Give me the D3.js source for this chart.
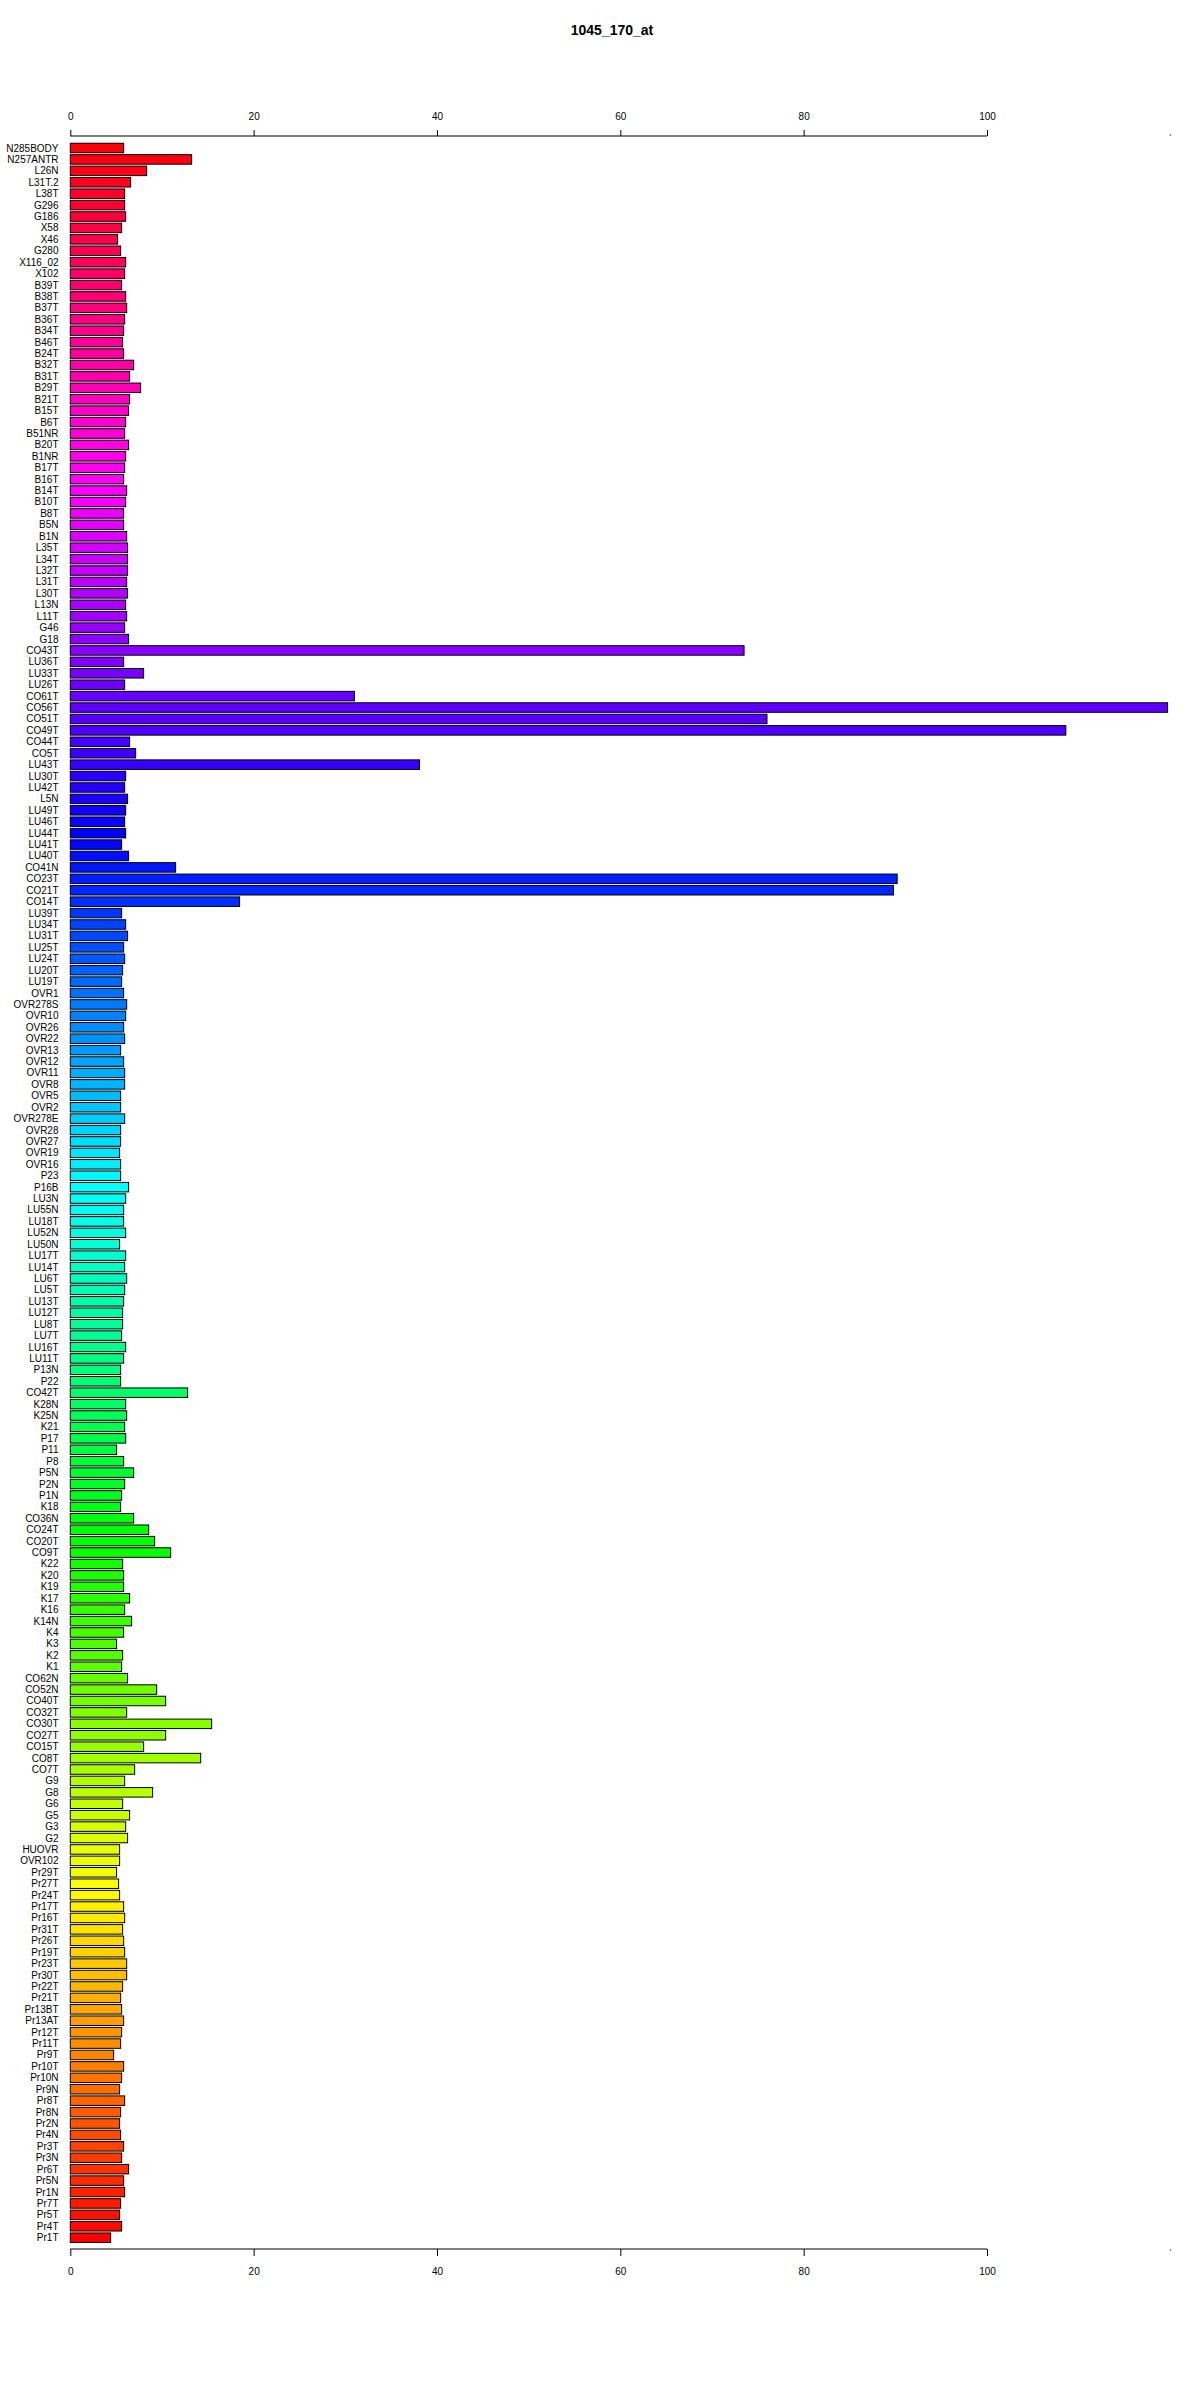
<!DOCTYPE html>
<html><head><meta charset="utf-8">
<script src="https://cdn.jsdelivr.net/npm/d3@7"></script>
<style>
html,body{margin:0;padding:0;background:#fff;}
svg text{font-family:"Liberation Sans",Arial,sans-serif;}
</style>
</head><body>
<svg id="chart" width="1200" height="2400"></svg>
<script>
const title = "1045_170_at";
const categories = ["N285BODY","N257ANTR","L26N","L31T.2","L38T","G296","G186","X58","X46","G280","X116_02","X102","B39T","B38T",
"B37T","B36T","B34T","B46T","B24T","B32T","B31T","B29T","B21T","B15T","B6T","B51NR","B20T","B1NR","B17T","B16T",
"B14T","B10T","B8T","B5N","B1N","L35T","L34T","L32T","L31T","L30T","L13N","L11T","G46","G18","CO43T","LU36T",
"LU33T","LU26T","CO61T","CO56T","CO51T","CO49T","CO44T","CO5T","LU43T","LU30T","LU42T","L5N","LU49T","LU46T","LU44T",
"LU41T","LU40T","CO41N","CO23T","CO21T","CO14T","LU39T","LU34T","LU31T","LU25T","LU24T","LU20T","LU19T","OVR1","OVR278S","OVR10",
"OVR26","OVR22","OVR13","OVR12","OVR11","OVR8","OVR5","OVR2","OVR278E","OVR28","OVR27","OVR19","OVR16","P23","P16B","LU3N",
"LU55N","LU18T","LU52N","LU50N","LU17T","LU14T","LU6T","LU5T","LU13T","LU12T","LU8T","LU7T","LU16T","LU11T","P13N","P22",
"CO42T","K28N","K25N","K21","P17","P11","P8","P5N","P2N","P1N","K18","CO36N","CO24T","CO20T","CO9T",
"K22","K20","K19","K17","K16","K14N","K4","K3","K2","K1","CO62N","CO52N","CO40T","CO32T","CO30T","CO27T",
"CO15T","CO8T","CO7T","G9","G8","G6","G5","G3","G2","HUOVR","OVR102","Pr29T","Pr27T","Pr24T","Pr17T","Pr16T",
"Pr31T","Pr26T","Pr19T","Pr23T","Pr30T","Pr22T","Pr21T","Pr13BT","Pr13AT","Pr12T","Pr11T","Pr9T","Pr10T","Pr10N","Pr9N","Pr8T",
"Pr8N","Pr2N","Pr4N","Pr3T","Pr3N","Pr6T","Pr5N","Pr1N","Pr7T","Pr5T","Pr4T","Pr1T"];
const values = [5.82,13.24,8.33,6.58,5.93,5.93,6.04,5.6,5.16,5.49,6.04,5.93,5.6,6.04,
6.15,5.93,5.82,5.71,5.82,6.91,6.47,7.67,6.47,6.36,6.04,5.93,6.36,6.04,5.93,5.82,
6.15,6.04,5.82,5.82,6.15,6.25,6.25,6.25,6.15,6.25,6.04,6.15,5.93,6.36,73.5,5.82,
8.0,5.93,31.0,119.7,76.0,108.6,6.47,7.13,38.1,6.04,5.93,6.25,6.04,5.93,6.04,
5.6,6.36,11.49,90.2,89.8,18.47,5.6,6.04,6.25,5.82,5.93,5.71,5.6,5.82,6.15,6.04,
5.82,5.93,5.49,5.82,5.93,5.93,5.49,5.49,5.93,5.49,5.49,5.38,5.49,5.49,6.36,6.04,
5.82,5.82,6.04,5.38,6.04,5.93,6.15,5.93,5.82,5.71,5.71,5.6,6.04,5.82,5.49,5.49,
12.8,6.04,6.15,5.93,6.04,5.05,5.82,6.91,5.93,5.6,5.49,6.91,8.55,9.2,10.95,
5.71,5.82,5.82,6.47,5.93,6.69,5.82,5.05,5.71,5.6,6.25,9.42,10.4,6.15,15.42,10.4,
8.0,14.22,7.02,5.93,8.98,5.71,6.47,6.04,6.25,5.38,5.38,5.05,5.27,5.38,5.82,5.93,
5.71,5.82,5.93,6.15,6.15,5.71,5.49,5.6,5.82,5.6,5.49,4.73,5.82,5.6,5.38,5.93,
5.49,5.38,5.49,5.82,5.6,6.36,5.82,5.93,5.49,5.38,5.6,4.4];
const tickValues = [0,20,40,60,80,100];
const edgeMark = [120];

const svg = d3.select("#chart");
const x = d3.scaleLinear().domain([0,100]).range([70.3,987]);
const y = d3.scaleBand().domain(categories).range([142.3,2243.4]).paddingInner(1/6).paddingOuter(1/12);
const n = categories.length;
const color = (i) => d3.hsl((n-1-i)/n*360, 1, 0.5).toString();

svg.append("text").attr("x",612).attr("y",35).attr("text-anchor","middle")
  .attr("font-weight","bold").attr("font-size",14).text(title);

svg.append("g").selectAll("rect").data(categories).join("rect")
  .attr("x", x(0)).attr("y", d=>y(d)).attr("height", y.bandwidth())
  .attr("width", (d,i)=> x(values[i]) - x(0))
  .attr("fill", (d,i)=>color(i)).attr("stroke","#000").attr("stroke-width",1);

svg.append("g").selectAll("text").data(categories).join("text")
  .attr("x", 58.5).attr("y", d=>y(d)+y.bandwidth()/2).attr("dy","0.35em")
  .attr("text-anchor","end").attr("font-size",10).attr("fill","#000").text(d=>d);

const axTop = d3.axisTop(x).tickValues(tickValues).tickSize(6).tickPadding(10);
const gTop = svg.append("g").attr("transform","translate(0,136)").call(axTop);
const axBot = d3.axisBottom(x).tickValues(tickValues).tickSize(7).tickPadding(12);
const gBot = svg.append("g").attr("transform","translate(0,2249)").call(axBot);
[gTop,gBot].forEach(g=>{
  g.select(".domain").attr("d", `M${x(0)},0H${x(100)}`).attr("stroke","#000");
  g.selectAll(".tick line").attr("stroke","#000");
  g.selectAll(".tick text").attr("font-size",10).attr("fill","#000").attr("font-family","Liberation Sans, Arial, sans-serif");
});
// tiny marks at the right edge of the plot region
[[136,-1],[2249,1]].forEach(([yy,dir])=>{
  svg.append("g").selectAll("line").data(edgeMark).join("line")
    .attr("x1", d=>x(d)).attr("x2", d=>x(d)).attr("y1", yy).attr("y2", yy+dir*2)
    .attr("stroke","#666").attr("stroke-width",1);
});
</script>
</body></html>
